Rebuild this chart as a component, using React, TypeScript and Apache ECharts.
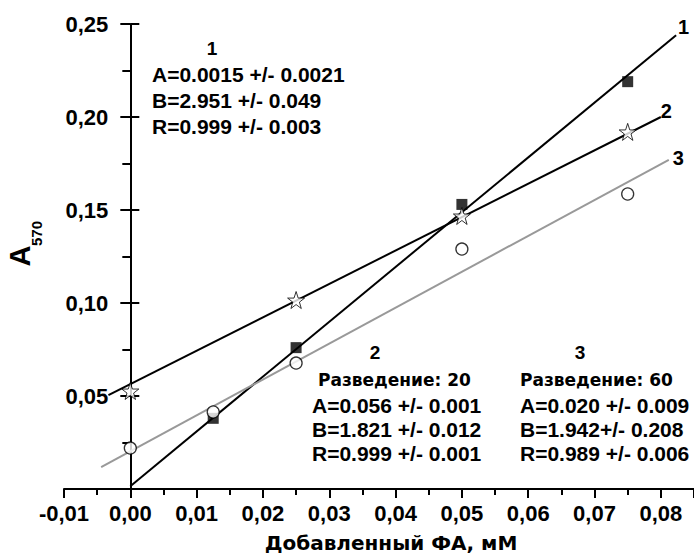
import React, { useEffect, useRef } from "react";
import * as echarts from "echarts";

// ---- data ----
const xTicksMin = -0.01;
const xTicksMax = 0.085;
const yTicksMin = 0;
const yTicksMax = 0.25;

// series 1: filled squares
const conc1 = [0.0125, 0.025, 0.05, 0.075];
const abs1 = [0.038, 0.076, 0.153, 0.219];
// series 2: open stars
const conc2 = [0, 0.025, 0.05, 0.075];
const abs2 = [0.0527, 0.1016, 0.1468, 0.192];
// series 3: open circles
const conc3 = [0, 0.0125, 0.025, 0.05, 0.075];
const abs3 = [0.022, 0.0414, 0.0677, 0.129, 0.1586];

// fitted lines (end points as drawn)
const fit1X = [0, 0.0823];
const fit1Y = [0.0015, 0.244];
const fit2X = [-0.0033, 0.08];
const fit2Y = [0.0505, 0.2];
const fit3X = [-0.0044, 0.0812];
const fit3Y = [0.0118, 0.177];

const lineNames = ["1", "2", "3"];
const fitText1 = ["A=0.0015 +/- 0.0021", "B=2.951 +/- 0.049", "R=0.999 +/- 0.003"];
const fitText2 = ["A=0.056 +/- 0.001", "B=1.821 +/- 0.012", "R=0.999 +/- 0.001"];
const fitText3 = ["A=0.020 +/- 0.009", "B=1.942+/- 0.208", "R=0.989 +/- 0.006"];
const dilution2 = "Разведение: 20";
const dilution3 = "Разведение: 60";
const xTitle = "Добавленный ФА, мМ";

const ARIAL = "Liberation Sans, Arial, sans-serif";
const DEJAVU = "DejaVu Sans, Verdana, sans-serif";

const STAR =
  "path://M50,0 L61.8,35.1 L98.1,35.1 L68.8,56.7 L79.4,90.9 L50,69.7 L20.6,90.9 L31.2,56.7 L1.9,35.1 L38.2,35.1 Z";

const pairs = (xs: number[], ys: number[]) => xs.map((x, i) => [x, ys[i]]);
const fmt = (v: number) => v.toFixed(2).replace(".", ",");

function textEl(text: string, x: number, y: number, font: string, align = "left") {
  return {
    type: "text",
    x,
    y,
    style: {
      text,
      font,
      fill: "#000",
      textAlign: align,
      textVerticalAlign: "middle",
      verticalAlign: "middle",
    },
  };
}

const GRID_LEFT = 64;
const GRID_WIDTH = 630;
const GRID_TOP = 24;
const GRID_BOTTOM = 70;

export default function App() {
  const ref = useRef<HTMLDivElement>(null);
  useEffect(() => {
    if (!ref.current) return;
    const chart = echarts.init(ref.current, null, { renderer: "svg" });
    const bigFont = `bold 21px ${ARIAL}`;
    const numFont = `bold 19px ${ARIAL}`;
    const dilFont = `bold 17px ${DEJAVU}`;
    const graphic: any[] = [];
    // block 1
    graphic.push(textEl("1", 212, 48, numFont, "center"));
    fitText1.forEach((t, i) => graphic.push(textEl(t, 152, 74 + i * 26, bigFont)));
    // block 2
    graphic.push(textEl("2", 375, 352, numFont, "center"));
    graphic.push(textEl(dilution2, 318, 380, dilFont));
    fitText2.forEach((t, i) => graphic.push(textEl(t, 312, 405 + i * 24, bigFont)));
    // block 3
    graphic.push(textEl("3", 580, 352, numFont, "center"));
    graphic.push(textEl(dilution3, 520, 380, dilFont));
    fitText3.forEach((t, i) => graphic.push(textEl(t, 520, 405 + i * 24, bigFont)));
    // y axis name A570
    graphic.push({
      type: "group",
      x: 20,
      y: 256,
      rotation: Math.PI / 2,
      children: [
        {
          type: "text",
          x: 0,
          y: 0,
          style: { text: "A", font: `bold 29px ${ARIAL}`, fill: "#000", textAlign: "center", textVerticalAlign: "middle", verticalAlign: "middle" },
        },
        {
          type: "text",
          x: 10,
          y: 16,
          style: { text: "570", font: `bold 15px ${ARIAL}`, fill: "#000", textAlign: "left", textVerticalAlign: "middle", verticalAlign: "middle" },
        },
      ],
    });

    // pixel position of x = 0 inside the data grid (where the y axis is drawn)
    const zeroLeft = GRID_LEFT + (GRID_WIDTH * (0 - xTicksMin)) / (xTicksMax - xTicksMin);

    const axisLineStyle = { color: "#000", width: 2 };
    const option: any = {
      animation: false,
      backgroundColor: "#fff",
      grid: [
        { left: GRID_LEFT, width: GRID_WIDTH, top: GRID_TOP, bottom: GRID_BOTTOM, containLabel: false },
        { left: zeroLeft, width: 1, top: GRID_TOP, bottom: GRID_BOTTOM, containLabel: false },
      ],
      xAxis: [
        {
          type: "value",
          gridIndex: 0,
          min: xTicksMin,
          max: xTicksMax,
          interval: 0.01,
          name: xTitle,
          nameLocation: "middle",
          nameGap: 44,
          nameTextStyle: { fontFamily: DEJAVU, fontWeight: "bold", fontSize: 20, color: "#000", padding: [0, 0, 0, 24] },
          axisLine: { onZero: false, lineStyle: axisLineStyle },
          axisTick: { show: true, length: 9, lineStyle: { color: "#000", width: 2 } },
          minorTick: { show: true, splitNumber: 2, length: 6, lineStyle: { color: "#000", width: 2 } },
          splitLine: { show: false },
          axisLabel: {
            margin: 13,
            color: "#000",
            fontFamily: ARIAL,
            fontWeight: "bold",
            fontSize: 22,
            showMaxLabel: false,
            formatter: (v: number) => (v > 0.0849 ? "" : fmt(v)),
          },
        },
        { type: "value", gridIndex: 1, min: 0, max: 1, show: false },
      ],
      yAxis: [
        {
          type: "value",
          gridIndex: 0,
          min: yTicksMin,
          max: yTicksMax,
          show: false,
        },
        {
          type: "value",
          gridIndex: 1,
          position: "left",
          min: yTicksMin,
          max: yTicksMax,
          interval: 0.05,
          axisLine: { show: true, onZero: false, lineStyle: axisLineStyle },
          axisTick: { show: true, length: 10, lineStyle: { color: "#000", width: 2 } },
          minorTick: { show: true, splitNumber: 2, length: 8, lineStyle: { color: "#000", width: 2 } },
          splitLine: { show: false },
          axisLabel: {
            margin: 22,
            color: "#000",
            fontFamily: ARIAL,
            fontWeight: "bold",
            fontSize: 22,
            formatter: (v: number) => (v <= 0 ? "" : fmt(v)),
          },
        },
        {
          type: "value",
          gridIndex: 1,
          position: "left",
          min: yTicksMin,
          max: yTicksMax,
          interval: 0.05,
          axisLine: { show: false, onZero: false },
          axisTick: { show: true, inside: true, length: 9, lineStyle: { color: "#000", width: 2 } },
          splitLine: { show: false },
          axisLabel: { show: false },
        },
      ],
      series: [
        {
          type: "line",
          data: pairs(fit1X, fit1Y),
          symbol: "none",
          lineStyle: { color: "#000", width: 2 },
          endLabel: { show: true, formatter: lineNames[0], offset: [0, -8], color: "#000", fontFamily: ARIAL, fontWeight: "bold", fontSize: 20, distance: 2 },
          z: 2,
        },
        {
          type: "line",
          data: pairs(fit2X, fit2Y),
          symbol: "none",
          lineStyle: { color: "#000", width: 2 },
          endLabel: { show: true, formatter: lineNames[1], offset: [-2, -6], color: "#000", fontFamily: ARIAL, fontWeight: "bold", fontSize: 20, distance: 2 },
          z: 2,
        },
        {
          type: "line",
          data: pairs(fit3X, fit3Y),
          symbol: "none",
          lineStyle: { color: "#999", width: 2 },
          endLabel: { show: true, formatter: lineNames[2], offset: [2, -2], color: "#000", fontFamily: ARIAL, fontWeight: "bold", fontSize: 20, distance: 2 },
          z: 2,
        },
        {
          type: "scatter",
          data: pairs(conc1, abs1),
          symbol: "rect",
          symbolSize: 11,
          itemStyle: { color: "#000" },
          z: 3,
        },
        {
          type: "scatter",
          data: pairs(conc2, abs2),
          symbol: STAR,
          symbolSize: 17,
          itemStyle: { color: "#fff", borderColor: "#000", borderWidth: 1 },
          z: 3,
        },
        {
          type: "scatter",
          data: pairs(conc3, abs3),
          symbol: "circle",
          symbolSize: 12,
          itemStyle: { color: "#fff", borderColor: "#000", borderWidth: 1.3 },
          z: 3,
        },
      ],
      graphic,
    };
    chart.setOption(option);
    return () => chart.dispose();
  }, []);
  return (
    <div
      ref={ref}
      style={{ position: "fixed", left: 0, top: 0, width: 694, height: 559, background: "#fff" }}
    />
  );
}
